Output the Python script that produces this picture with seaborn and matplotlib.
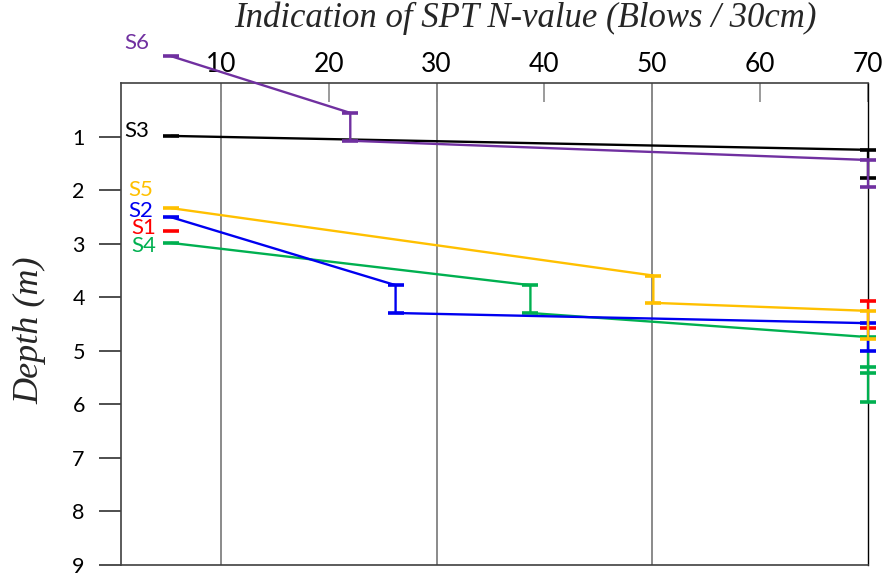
import matplotlib
matplotlib.use("Agg")
import matplotlib.pyplot as plt
import seaborn as sns
import pandas as pd

# ---------------- data ----------------
series = ["S4", "S2", "S1", "S5", "S3", "S6"]          # drawing order
palette = {"S6": "#7030A0", "S3": "#000000", "S5": "#FFC000",
           "S2": "#0000F0", "S1": "#FF0000", "S4": "#00B050"}

# SPT N-value / depth (m) of each test boundary, seg = separate line pieces
s6_n = [5.4, 22.0, 22.0, 70, 70]
s6_depth = [-0.51, 0.55, 1.07, 1.43, 1.93]
s6_seg = [0, 0, 0, 0, 0]

s3_n = [5.4, 70, 70]
s3_depth = [0.98, 1.24, 1.77]
s3_seg = [0, 0, 0]

s5_n = [5.4, 50.1, 50.1, 70, 70]
s5_depth = [2.33, 3.59, 4.10, 4.25, 4.78]
s5_seg = [0, 0, 0, 0, 0]

s2_n = [5.4, 26.2, 26.2, 70, 70]
s2_depth = [2.50, 3.77, 4.29, 4.48, 5.00]
s2_seg = [0, 0, 0, 0, 0]

s1_n = [5.4, 70, 70]
s1_depth = [2.76, 4.07, 4.57]
s1_seg = [0, 1, 1]

s4_n = [5.4, 38.7, 38.7, 70, 70, 70, 70]
s4_depth = [2.98, 3.77, 4.29, 4.74, 5.30, 5.41, 5.95]
s4_seg = [0, 0, 0, 0, 0, 0, 0]

x_ticks = [10, 20, 30, 40, 50, 60, 70]
y_ticks = [1, 2, 3, 4, 5, 6, 7, 8, 9]
x_title = "Indication of SPT N-value (Blows / 30cm)"
y_title = "Depth (m)"

# label offsets (points) relative to the first point of each series
label_offsets = {"S6": (-25, 9.5), "S3": (-25, 3.6), "S5": (-22, 13),
                 "S2": (-22, 4.3), "S1": (-20, 2.2), "S4": (-19.5, -2.2)}

# ---------------- build table ----------------
raw = {"S6": (s6_n, s6_depth, s6_seg), "S3": (s3_n, s3_depth, s3_seg),
       "S5": (s5_n, s5_depth, s5_seg), "S2": (s2_n, s2_depth, s2_seg),
       "S1": (s1_n, s1_depth, s1_seg), "S4": (s4_n, s4_depth, s4_seg)}
rows = []
for name in series:
    n, d, s = raw[name]
    for ni, di, si in zip(n, d, s):
        rows.append({"series": name, "n": ni, "depth": di, "unit": f"{name}_{si}"})
df = pd.DataFrame(rows)

# ---------------- plot ----------------
sns.set_style("white")
plt.rcParams["font.family"] = ["Lato", "DejaVu Sans"]

fig = plt.figure(figsize=(8.85, 5.77), dpi=100)
ax = fig.add_axes([0.1367, 0.0208, 0.8441, 0.8345])

sns.lineplot(data=df, x="n", y="depth", hue="series", hue_order=series,
             units="unit", estimator=None, sort=False, palette=palette,
             marker="_", markersize=12, markeredgewidth=2.6, lw=1.7,
             legend=False, ax=ax)
for ln in ax.lines:
    ln.set_clip_on(False)
    c = ln.get_color()
    ln.set_markeredgecolor(c)
    ln.set_markerfacecolor(c)
    ln.set_zorder(3)

# vertical grid lines
for gx in [10, 30, 50]:
    ax.axvline(gx, color="#8a8a8a", lw=1.4, zorder=0)

ax.set_xlim(0.74, 70)
ax.set_ylim(9, 0)

ax.xaxis.tick_top()
ax.xaxis.set_label_position("top")
ax.set_xticks(x_ticks)
ax.set_xticklabels([str(v) for v in x_ticks])
ax.tick_params(axis="x", top=True, bottom=False, direction="in", length=14,
               width=1.2, color="#8a8a8a", labelsize=19, pad=5,
               labelcolor="black")
ax.set_yticks(y_ticks)
ax.set_yticklabels([str(v) for v in y_ticks])
ax.tick_params(axis="y", left=True, direction="out", length=16, width=1.3,
               color="#404040", labelsize=15.5, pad=10, labelcolor="black")

ax.set_xlabel(x_title, fontfamily="Liberation Serif", fontstyle="italic",
              fontsize=25)
ax.xaxis.set_label_coords(0.541, 1.136)
ax.xaxis.label.set_va("center")
ax.set_ylabel(y_title, fontfamily="Liberation Serif", fontstyle="italic",
              fontsize=26)
ax.yaxis.set_label_coords(-0.122, 0.488)
ax.yaxis.label.set_va("center")

for side in ["top", "left", "bottom"]:
    ax.spines[side].set_color("#404040")
    ax.spines[side].set_linewidth(1.2)
ax.spines["right"].set_color("#000000")
ax.spines["right"].set_linewidth(1.0)

for name in ["S6", "S3", "S5", "S2", "S1", "S4"]:
    n, d, s = raw[name]
    ax.annotate(name, xy=(n[0], d[0]), xytext=label_offsets[name],
                textcoords="offset points", ha="center", va="center",
                fontsize=16, color=palette[name], annotation_clip=False)

fig.savefig("out.png", dpi=100)
